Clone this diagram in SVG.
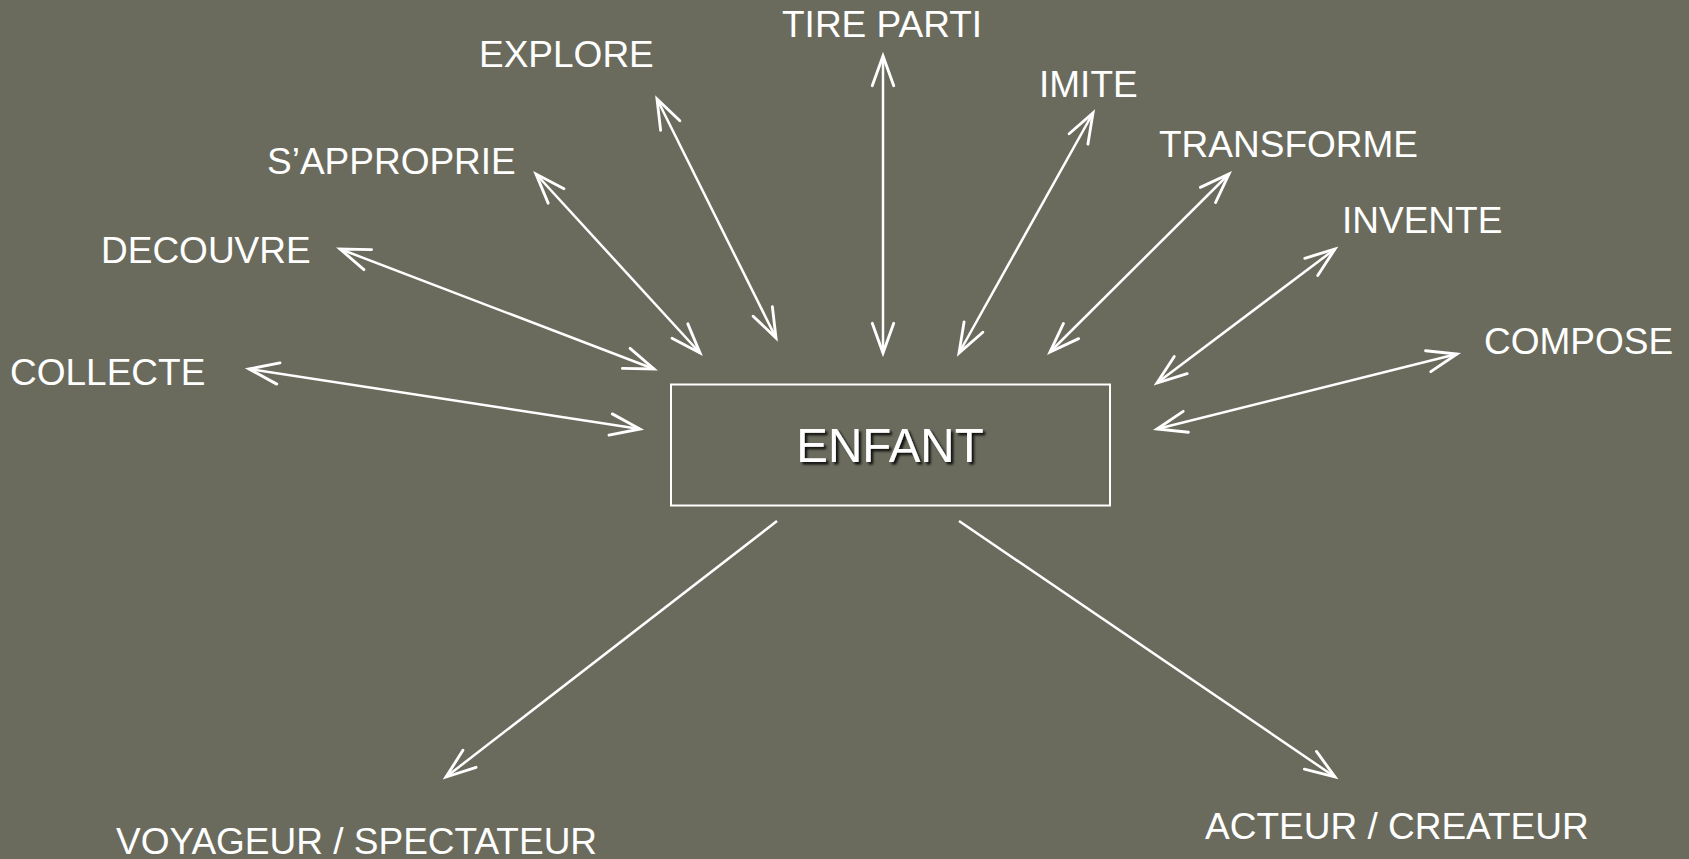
<svg xmlns="http://www.w3.org/2000/svg" width="1689" height="859" viewBox="0 0 1689 859">
<style>
.lbl{font-family:"Liberation Sans",Arial,sans-serif;font-size:37px;fill:#ffffff}
.main{font-family:"Liberation Sans",Arial,sans-serif;font-size:47.5px;fill:#ffffff;text-anchor:middle}
.con{stroke:#ffffff;stroke-width:2.5;fill:none}
.two{marker-start:url(#ah);marker-end:url(#ah)}
.one{marker-end:url(#ah)}
</style>
<defs>
<marker id="ah" markerUnits="userSpaceOnUse" markerWidth="40" markerHeight="40" refX="0" refY="0" orient="auto-start-reverse" overflow="visible" viewBox="-30 -15 35 30">
<path d="M-26,-9.4 L0,0 L-26,9.4" fill="none" stroke="#ffffff" stroke-width="2.5" stroke-linecap="round" stroke-linejoin="miter"/>
</marker>
<filter id="sh" x="-10%" y="-20%" width="130%" height="160%">
<feDropShadow dx="2.5" dy="2.5" stdDeviation="1.2" flood-color="#000000" flood-opacity="0.85"/>
</filter>
</defs>
<rect width="1689" height="859" fill="#6a6b5d"/>
<g id="connectors">
<line class="con two" x1="249" y1="369" x2="640" y2="429"/>
<line class="con two" x1="340" y1="249" x2="654" y2="369"/>
<line class="con two" x1="536" y1="174" x2="700" y2="353"/>
<line class="con two" x1="657" y1="99" x2="776" y2="338"/>
<line class="con two" x1="883" y1="56" x2="883" y2="353"/>
<line class="con two" x1="1093" y1="113" x2="959" y2="353"/>
<line class="con two" x1="1229" y1="174" x2="1050" y2="352"/>
<line class="con two" x1="1335" y1="249" x2="1157" y2="383"/>
<line class="con two" x1="1457" y1="354" x2="1157" y2="429"/>
<line class="con one" x1="777" y1="521" x2="446" y2="777"/>
<line class="con one" x1="959" y1="521" x2="1335" y2="777"/>
</g>
<g id="enfant">
<rect x="671" y="384.5" width="439" height="121" fill="none" stroke="#ffffff" stroke-width="2"/>
<text class="main" x="890" y="462" filter="url(#sh)">ENFANT</text>
</g>
<g id="tire-parti"><text class="lbl" x="782" y="37">TIRE PARTI</text></g>
<g id="explore"><text class="lbl" x="479" y="67">EXPLORE</text></g>
<g id="imite"><text class="lbl" x="1039" y="97">IMITE</text></g>
<g id="sapproprie"><text class="lbl" x="267" y="174">S’APPROPRIE</text></g>
<g id="transforme"><text class="lbl" x="1159" y="157">TRANSFORME</text></g>
<g id="invente"><text class="lbl" x="1342" y="233">INVENTE</text></g>
<g id="decouvre"><text class="lbl" x="101" y="263">DECOUVRE</text></g>
<g id="compose"><text class="lbl" x="1484" y="354">COMPOSE</text></g>
<g id="collecte"><text class="lbl" x="10" y="385">COLLECTE</text></g>
<g id="voyageur"><text class="lbl" x="116" y="854">VOYAGEUR / SPECTATEUR</text></g>
<g id="acteur"><text class="lbl" x="1205" y="839">ACTEUR / CREATEUR</text></g>
</svg>
